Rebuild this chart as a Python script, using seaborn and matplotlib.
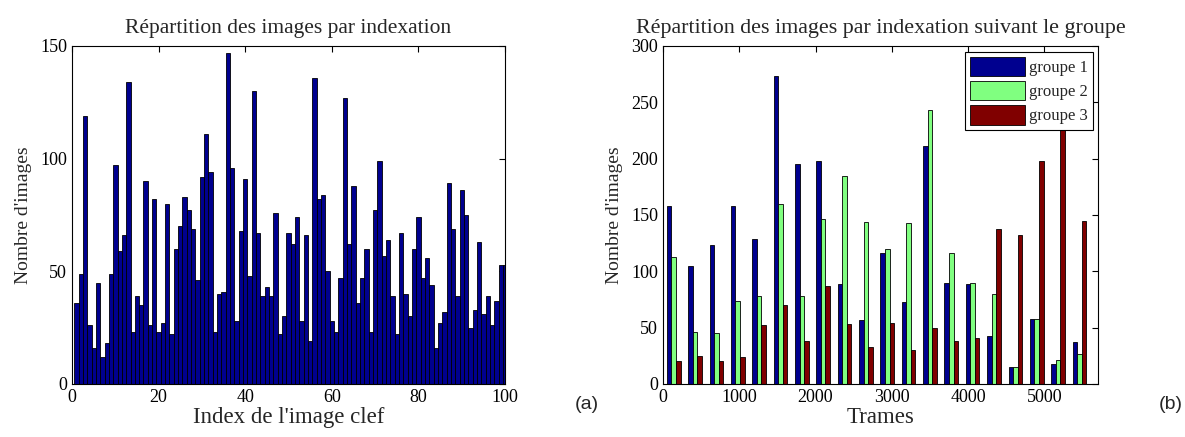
import numpy as np
import pandas as pd
import matplotlib
matplotlib.use('Agg')
import matplotlib.pyplot as plt
import seaborn as sns

# left panel: number of images for each key image index (1..100)
index_clef = list(range(1, 101))
nb_images = [36, 49, 119, 26, 16, 45, 12, 18, 49, 97,
             59, 66, 134, 23, 39, 35, 90, 26, 82, 23,
             27, 80, 22, 60, 70, 83, 77, 69, 46, 92,
             111, 94, 23, 40, 41, 147, 96, 28, 68, 91,
             48, 130, 67, 39, 43, 39, 76, 22, 30, 67,
             62, 74, 28, 66, 19, 136, 82, 84, 50, 28,
             23, 47, 127, 62, 88, 36, 47, 60, 23, 77,
             99, 57, 64, 39, 22, 67, 40, 30, 60, 74,
             47, 56, 44, 16, 27, 32, 89, 69, 39, 86,
             75, 25, 33, 63, 31, 39, 26, 37, 53, 53]

# right panel: images per frame range and group
trames = [140 + 280 * k for k in range(20)]
groupe_1 = [158, 105, 123, 158, 129, 273, 195, 198, 89, 57,
            116, 73, 211, 90, 89, 43, 15, 58, 18, 37]
groupe_2 = [113, 46, 45, 74, 78, 160, 78, 146, 185, 144,
            120, 143, 243, 116, 90, 80, 15, 58, 21, 27]
groupe_3 = [20, 25, 20, 24, 52, 70, 38, 87, 53, 33,
            54, 30, 50, 38, 41, 138, 132, 198, 240, 145]
groupes = ['groupe 1', 'groupe 2', 'groupe 3']
couleurs = ['#00008F', '#80FF80', '#800000']

df_groupes = pd.DataFrame({
    'Trames': trames * 3,
    'Nombre': groupe_1 + groupe_2 + groupe_3,
    'Groupe': [g for g in groupes for _ in trames],
})

sns.set_theme(style='white')
plt.rcParams['font.family'] = ['Liberation Serif', 'DejaVu Serif']
plt.rcParams['xtick.direction'] = 'in'
plt.rcParams['ytick.direction'] = 'in'
plt.rcParams['xtick.top'] = True
plt.rcParams['ytick.right'] = True
plt.rcParams['xtick.major.size'] = 4
plt.rcParams['ytick.major.size'] = 4
plt.rcParams['xtick.color'] = 'black'
plt.rcParams['ytick.color'] = 'black'
plt.rcParams['axes.edgecolor'] = 'black'

fig = plt.figure(figsize=(11.85, 4.37), dpi=100)
ax1 = fig.add_axes([0.0608, 0.1213, 0.3654, 0.7735])
ax2 = fig.add_axes([0.5595, 0.1213, 0.3675, 0.7735])

# (a)
sns.barplot(x=index_clef, y=nb_images, native_scale=True, width=1,
            color='#00008F', saturation=1, edgecolor='black', linewidth=0.6,
            errorbar=None, ax=ax1)
ax1.set_xlim(0, 100)
ax1.set_ylim(0, 150)
ax1.set_xticks([0, 20, 40, 60, 80, 100])
ax1.set_yticks([0, 50, 100, 150])
ax1.set_title("Répartition des images par indexation", fontsize=15.5, pad=9)
ax1.set_xlabel("Index de l'image clef", fontsize=16.5, labelpad=1)
ax1.set_ylabel("Nombre d'images", fontsize=14, labelpad=6)

# (b)
sns.barplot(data=df_groupes, x='Trames', y='Nombre', hue='Groupe',
            native_scale=True, width=0.64, gap=0, palette=couleurs,
            saturation=1, edgecolor='black', linewidth=0.6,
            errorbar=None, ax=ax2)
ax2.set_xlim(0, 5710)
ax2.set_ylim(0, 300)
ax2.set_xticks([0, 1000, 2000, 3000, 4000, 5000])
ax2.set_xticklabels(['0', '1000', '2000', '3000', '4000', '5000'])
ax2.set_yticks(range(0, 301, 50))
ax2.set_title("Répartition des images par indexation suivant le groupe", fontsize=15.8, pad=9)
ax2.set_xlabel("Trames", fontsize=16.5, labelpad=1)
ax2.set_ylabel("Nombre d'images", fontsize=14, labelpad=6)
leg = ax2.legend(loc='upper right', fontsize=12, fancybox=False,
                 edgecolor='black', framealpha=1, handlelength=3.3,
                 handleheight=1.4, borderaxespad=0.35, labelspacing=0.3,
                 handletextpad=0.25, borderpad=0.3)
leg.get_frame().set_linewidth(0.8)

for ax in (ax1, ax2):
    ax.tick_params(labelsize=13, width=0.8)
    for s in ax.spines.values():
        s.set_linewidth(0.8)

fig.text(0.485, 0.063, '(a)', fontsize=14, family=['Liberation Sans', 'DejaVu Sans'], ha='left')
fig.text(0.978, 0.063, '(b)', fontsize=14, family=['Liberation Sans', 'DejaVu Sans'], ha='left')

fig.savefig('out.png', dpi=100)
